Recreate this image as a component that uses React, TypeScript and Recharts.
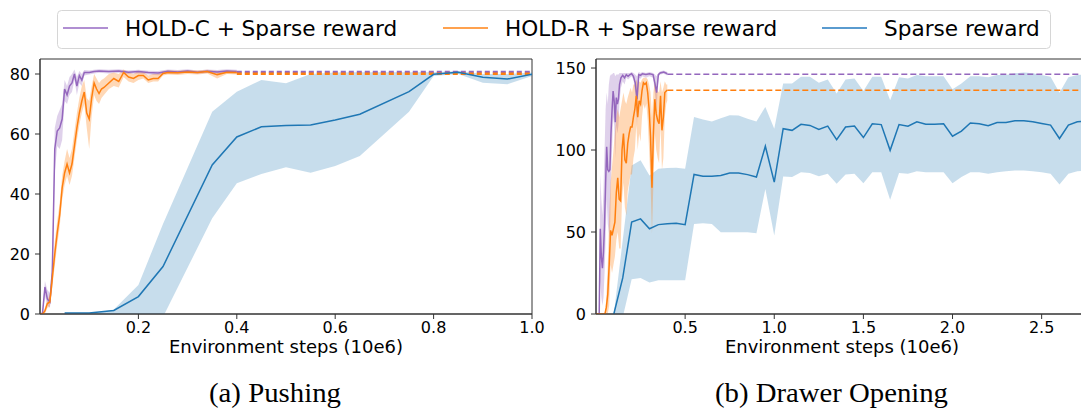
import React from "react";
import { ComposedChart, Line, Area, XAxis, YAxis, ReferenceArea, Label } from "recharts";

// colours (matplotlib tab10)
const PURPLE = "#9467bd";
const ORANGE = "#ff7f0e";
const BLUE = "#1f77b4";
const AXIS = "#333";
const FONT = "DejaVu Sans";

// ---------- (a) Pushing ----------
const pushHoldCX = [0, 0.005, 0.01, 0.015, 0.02, 0.025, 0.03, 0.035, 0.04, 0.045, 0.05, 0.055, 0.06, 0.065, 0.07, 0.075, 0.08, 0.085, 0.09,
  0.1, 0.11, 0.12, 0.14, 0.16, 0.18, 0.2, 0.22, 0.24, 0.26, 0.28, 0.3, 0.32, 0.34, 0.36, 0.38, 0.4];
const pushHoldC = [0, 0, 9, 5, 4, 14, 55, 61, 62, 65, 75, 73, 76, 77, 80, 76, 79.5, 78, 80.5,
  80.5, 80.8, 81, 80.8, 81, 80.6, 80.8, 80.5, 80.3, 80.9, 80.7, 81, 80.6, 80.9, 80.7, 81, 80.8];
const pushHoldCLo = [0, 0, 6, 3, 2, 9, 47, 56, 55, 58, 71, 70, 73, 74, 78, 73, 77, 76, 79.5,
  79.8, 80.2, 80.4, 80.2, 80.4, 80, 80.2, 79.8, 79.6, 80.3, 80.1, 80.4, 80, 80.3, 80.1, 80.4, 80.2];
const pushHoldCHi = [0, 1, 11, 8, 7, 18, 62, 66, 68, 70, 78, 76, 79, 80, 81.5, 79, 81, 80, 81.3,
  81.2, 81.4, 81.6, 81.4, 81.6, 81.2, 81.4, 81.1, 81, 81.5, 81.3, 81.6, 81.2, 81.5, 81.3, 81.6, 81.4];

const pushHoldRX = [0, 0.005, 0.01, 0.015, 0.02, 0.025, 0.03, 0.035, 0.04, 0.045, 0.05, 0.055, 0.06, 0.065, 0.07, 0.075, 0.08, 0.085, 0.09,
  0.095, 0.1, 0.105, 0.11, 0.115, 0.12, 0.125, 0.13, 0.14, 0.15, 0.16, 0.17, 0.18, 0.19, 0.2, 0.21, 0.22, 0.23, 0.24, 0.25, 0.26,
  0.28, 0.3, 0.32, 0.34, 0.36, 0.38, 0.4];
const pushHoldR = [0, 0, 1, 3.5, 4, 12, 20, 27, 33, 42, 47, 50, 47, 50, 56, 62, 67, 71, 74, 67, 65, 72, 77, 75, 73.5, 75, 75.5,
  77, 78.5, 77.5, 80.5, 79, 78.5, 79.5, 79.5, 78, 78.5, 78.5, 80.2, 80.5, 80.4, 80.7, 80.5, 80.8, 79.8, 80.6, 80.5];
const pushHoldRLo = [0, 0, 0, 2, 2.5, 9, 16, 23, 29, 38, 43, 46, 43, 46, 52, 58, 63, 67, 70, 62, 55, 66, 73, 71, 70, 72, 73,
  75, 76, 75.5, 79, 77.5, 77, 78, 78.5, 77, 77.5, 77.5, 79.5, 79.8, 79.7, 80, 79.8, 80.2, 78.5, 80, 79.8];
const pushHoldRHi = [0, 0, 2, 5, 6, 15, 24, 31, 37, 46, 51, 55, 52, 55, 61, 67, 72, 76, 78, 72, 71, 76, 80, 78.5, 77, 78, 78.5,
  80, 80.5, 80, 81.5, 80.5, 80, 81, 80.7, 79.5, 80, 80, 81, 81.2, 81.1, 81.3, 81.2, 81.4, 81, 81.2, 81.1];

const pushSparseX = [0.05, 0.1, 0.15, 0.2, 0.25, 0.35, 0.4, 0.45, 0.5, 0.55, 0.6, 0.65, 0.75, 0.8, 0.85, 0.9, 0.95, 1.0];
const pushSparse = [0.3, 0.3, 1.2, 5.8, 15.8, 49.7, 59, 62.4, 62.8, 63, 64.7, 66.6, 74.1, 79.9, 80.6, 78.9, 78.3, 79.9];
const pushSparseLo = [0, 0, 0, -4, -1, 31.9, 43.6, 46.7, 48.9, 47.1, 49.3, 52.7, 67.4, 79.3, 80, 77.1, 76.6, 79.3];
const pushSparseHi = [0, 0, 1.5, 9.7, 30, 67.4, 74.1, 78, 76.9, 80, 80.5, 80.6, 80.6, 80.6, 81, 80, 80, 80.5];

const pushFinalX = [0.4, 1.0];
const pushHoldCFinal = 80.7;
const pushHoldRFinal = 80.1;

// ---------- (b) Drawer Opening ----------
const drawHoldCX = [0, 0.018, 0.024, 0.03, 0.036, 0.042, 0.048, 0.054, 0.06, 0.066, 0.072, 0.078, 0.084, 0.09, 0.096, 0.102, 0.108,
  0.114, 0.12, 0.126, 0.132, 0.14, 0.15, 0.16, 0.17, 0.18, 0.19, 0.2, 0.21, 0.22, 0.23, 0.24, 0.25, 0.26, 0.28, 0.3, 0.32, 0.33,
  0.34, 0.35, 0.36, 0.38, 0.4];
const drawHoldC = [0, 0, 52, 35, 28, 38, 55, 80, 102, 88, 87, 88, 110, 124, 136, 130, 117, 132, 128, 131, 140, 144, 145.5, 144,
  146, 145, 146, 146.5, 145, 141, 131, 146, 145.5, 146.5, 146, 146.5, 146, 141, 135, 146, 147, 147.5, 146.5];
const drawHoldCLo = [0, 0, 20, 10, 5, 10, 25, 45, 70, 55, 50, 45, 80, 100, 120, 115, 95, 115, 110, 115, 130, 138, 142, 140,
  144, 143, 144, 145, 143, 135, 115, 144, 143.5, 145, 144, 145, 144, 135, 125, 144.5, 146, 146.5, 145.5];
const drawHoldCHi = [0, 0, 85, 70, 60, 75, 100, 125, 135, 128, 140, 145, 146, 146, 147, 147, 145, 146, 146, 146, 147, 147, 147,
  147, 147, 147, 147, 147.5, 147, 146, 145, 147.5, 147, 147.5, 147, 147.5, 147, 146, 145, 147, 148, 148.5, 147.5];

const drawHoldRX = [0, 0.05, 0.058, 0.066, 0.074, 0.082, 0.09, 0.098, 0.106, 0.114, 0.122, 0.13, 0.138, 0.146, 0.154, 0.162,
  0.17, 0.178, 0.186, 0.194, 0.202, 0.21, 0.218, 0.226, 0.234, 0.242, 0.25, 0.258, 0.266, 0.274, 0.282, 0.29, 0.298, 0.306,
  0.314, 0.322, 0.33, 0.338, 0.346, 0.354, 0.362, 0.37, 0.378, 0.386, 0.394, 0.4];
const drawHoldR = [0, 0, 4, 12, 30, 51, 48, 52, 56, 74, 83, 70, 69, 100, 110, 94, 92, 104, 110, 114, 114, 120, 125, 133, 120,
  130, 128, 136, 141, 140, 141, 135, 125, 108, 77, 110, 131, 122, 118, 116, 133, 112, 120, 135, 136, 136.5];
const drawHoldRLo = [0, 0, 0, 0, 5, 30, 25, 30, 35, 45, 50, 40, 40, 70, 80, 65, 60, 75, 80, 85, 85, 95, 100, 115, 100, 110,
  105, 120, 128, 125, 128, 118, 100, 80, 49, 80, 110, 100, 95, 92, 115, 88, 95, 120, 128, 130];
const drawHoldRHi = [0, 0, 10, 30, 60, 80, 90, 100, 110, 120, 125, 120, 125, 130, 135, 130, 128, 132, 135, 138, 135, 140, 140,
  143, 140, 142, 141, 143, 144, 144, 144, 143, 140, 135, 120, 135, 142, 138, 136, 135, 142, 135, 138, 142, 140, 140];

const drawSparseX = [0.1, 0.15, 0.2, 0.25, 0.3, 0.35, 0.4, 0.45, 0.5, 0.55, 0.6, 0.65, 0.7, 0.75, 0.8, 0.85, 0.9, 0.95, 1.0,
  1.05, 1.1, 1.15, 1.2, 1.25, 1.3, 1.35, 1.4, 1.45, 1.5, 1.55, 1.6, 1.65, 1.7, 1.75, 1.8, 1.85, 1.9, 1.95, 2.0, 2.05, 2.1,
  2.15, 2.2, 2.25, 2.3, 2.35, 2.4, 2.45, 2.5, 2.55, 2.6, 2.65, 2.7, 2.75];
const drawSparse = [0, 22, 56, 58, 52, 54.5, 55, 55.3, 54.5, 85.1, 84, 84, 84.5, 86, 86, 85, 83.5, 102.3, 80.4, 113, 112,
  115.7, 115, 112.5, 114.6, 106.3, 114, 114.6, 107.6, 116, 115.5, 99.8, 115.5, 114.5, 117.2, 115.7, 115.7, 116, 108.4, 111.5,
  116.5, 116, 114.8, 116.8, 116.8, 117.8, 117.8, 117.2, 116.2, 115.2, 107, 115.2, 117.2, 117.5];
const drawSparseLo = [-20, -2, 21.2, 22, 19.2, 20.6, 20.6, 20.6, 20.6, 54.9, 55.3, 54.9, 49.8, 49.8, 49.8, 49.8, 49.2, 76.3,
  47.8, 83.9, 83.5, 86.5, 86, 84, 85.5, 79.4, 85, 85.5, 79.8, 86.5, 86.5, 69.6, 86, 85.5, 87, 86.5, 86.5, 86.5, 79.8, 83.5,
  86.5, 86.5, 85.5, 86.5, 87, 87.5, 87.5, 87, 86.5, 85.5, 79, 85.5, 87, 87.5];
const drawSparseHi = [0, 45, 90.6, 93.7, 84.4, 88.6, 89, 89.2, 88.6, 120.2, 118.6, 117.4, 119.4, 121.2, 121, 119, 117.4, 126.3,
  113, 140.6, 140.6, 144.7, 144.7, 141, 143, 134.5, 143, 143.6, 136, 144.7, 144.7, 130.4, 144.3, 143.6, 145.8, 145, 145, 145,
  137, 140.6, 145, 145, 144.3, 145.8, 145.8, 146.8, 147.2, 146.8, 145.8, 144.7, 134.9, 144.3, 145.8, 146];

const drawFinalX = [0.4, 2.76];
const drawHoldCFinal = 146.2;
const drawHoldRFinal = 136.5;

const legendLabels = ["HOLD-C + Sparse reward", "HOLD-R + Sparse reward", "Sparse reward"];

type Row = { x: number; y: number; band: [number, number] };
const rows = (xs: number[], m: number[], lo: number[], hi: number[]): Row[] =>
  xs.map((x, i) => ({ x, y: m[i], band: [lo[i], hi[i]] }));
const flat = (xs: number[], v: number) => xs.map((x) => ({ x, y: v }));

type Series = { rows: Row[]; color: string; alpha: number };

function Panel(props: {
  left: number;
  yAxisWidth: number;
  width: number;
  xMax: number;
  yMax: number;
  xTicks: number[];
  yTicks: number[];
  series: Series[]; // drawn in order: bands then lines
  finals: { data: { x: number; y: number }[]; color: string; width: number; dash: string }[];
}) {
  const { left, yAxisWidth, width, xMax, yMax, xTicks, yTicks, series, finals } = props;
  return (
    <div style={{ position: "absolute", left, top: 0 }}>
      <ComposedChart
        width={width}
        height={360}
        margin={{ top: 59, right: width - yAxisWidth - 492, bottom: 0, left: 0 }}
        style={{ fontFamily: FONT }}
      >
        <ReferenceArea x1={0} x2={xMax} y1={0} y2={yMax} fill="none" stroke={AXIS} strokeWidth={1} />
        <XAxis
          dataKey="x"
          type="number"
          domain={[0, xMax]}
          ticks={xTicks}
          allowDataOverflow
          height={46}
          tickSize={5}
          tickMargin={3}
          tickFormatter={(v: number) => v.toFixed(1)}
          tick={{ fontSize: 16, fill: "#000", fontFamily: FONT }}
          axisLine={{ stroke: AXIS }}
          tickLine={{ stroke: AXIS }}
        >
          <Label value="Environment steps (10e6)" position="insideBottom" offset={7}
            style={{ fontSize: 18, fill: "#000", fontFamily: FONT }} />
        </XAxis>
        <YAxis
          type="number"
          domain={[0, yMax]}
          ticks={yTicks}
          allowDataOverflow
          width={yAxisWidth}
          tickSize={5}
          tickMargin={5}
          tick={{ fontSize: 16, fill: "#000", fontFamily: FONT }}
          axisLine={{ stroke: AXIS }}
          tickLine={{ stroke: AXIS }}
        />
        {series.map((s, i) => (
          <Area key={`band-${i}`} data={s.rows} dataKey="band" type="linear" stroke="none"
            fill={s.color} fillOpacity={s.alpha} isAnimationActive={false} activeDot={false} />
        ))}
        {finals.map((f, i) => (
          <Line key={`final-${i}`} data={f.data} dataKey="y" type="linear" stroke={f.color}
            strokeWidth={f.width} strokeDasharray={f.dash} dot={false} activeDot={false} isAnimationActive={false} />
        ))}
        {series.map((s, i) => (
          <Line key={`line-${i}`} data={s.rows} dataKey="y" type="linear" stroke={s.color}
            strokeWidth={1.5} dot={false} activeDot={false} isAnimationActive={false} />
        ))}
      </ComposedChart>
    </div>
  );
}

export default function App() {
  const pushSeries: Series[] = [
    { rows: rows(pushSparseX, pushSparse, pushSparseLo, pushSparseHi), color: BLUE, alpha: 0.25 },
    { rows: rows(pushHoldCX, pushHoldC, pushHoldCLo, pushHoldCHi), color: PURPLE, alpha: 0.3 },
    { rows: rows(pushHoldRX, pushHoldR, pushHoldRLo, pushHoldRHi), color: ORANGE, alpha: 0.3 },
  ];
  const drawSeries: Series[] = [
    { rows: rows(drawSparseX, drawSparse, drawSparseLo, drawSparseHi), color: BLUE, alpha: 0.25 },
    { rows: rows(drawHoldCX, drawHoldC, drawHoldCLo, drawHoldCHi), color: PURPLE, alpha: 0.3 },
    { rows: rows(drawHoldRX, drawHoldR, drawHoldRLo, drawHoldRHi), color: ORANGE, alpha: 0.3 },
  ];
  const legendColors = ["#b08fd2", "#ffa24f", "#5a9bcf"];
  const legendLineX = [63, 443, 822];

  return (
    <div style={{ position: "absolute", left: 0, top: 0, width: 1081, height: 410, overflow: "hidden", background: "#fff" }}>
      <Panel
        left={0}
        yAxisWidth={40}
        width={545}
        xMax={1.0}
        yMax={85}
        xTicks={[0.2, 0.4, 0.6, 0.8, 1.0]}
        yTicks={[0, 20, 40, 60, 80]}
        series={pushSeries}
        finals={[
          { data: flat(pushFinalX, pushHoldCFinal), color: PURPLE, width: 2.5, dash: "5 3" },
          { data: flat(pushFinalX, pushHoldRFinal), color: ORANGE, width: 2.5, dash: "5 3" },
        ]}
      />
      <Panel
        left={540}
        yAxisWidth={56}
        width={560}
        xMax={2.76}
        yMax={155.5}
        xTicks={[0.5, 1.0, 1.5, 2.0, 2.5]}
        yTicks={[0, 50, 100, 150]}
        series={drawSeries}
        finals={[
          { data: flat(drawFinalX, drawHoldCFinal), color: PURPLE, width: 1.5, dash: "6 3" },
          { data: flat(drawFinalX, drawHoldRFinal), color: ORANGE, width: 1.5, dash: "6 3" },
        ]}
      />
      <svg width={1081} height={410} style={{ position: "absolute", left: 0, top: 0, pointerEvents: "none" }}>
        <rect x={57.5} y={10.5} width={993} height={38} rx={4} fill="#fff" stroke="#d6d6d6" />
        {legendLabels.map((t, i) => (
          <g key={t}>
            <line x1={legendLineX[i]} x2={legendLineX[i] + 45} y1={28} y2={28} stroke={legendColors[i]} strokeWidth={2} />
            <text x={legendLineX[i] + 62} y={36} fontSize={21.6} fontFamily={FONT} fill="#000">{t}</text>
          </g>
        ))}
        <text x={209} y={402} fontSize={27} fontFamily="Liberation Serif" fill="#000"
          textLength={132} lengthAdjust="spacingAndGlyphs">(a) Pushing</text>
        <text x={715} y={402} fontSize={27} fontFamily="Liberation Serif" fill="#000"
          textLength={233} lengthAdjust="spacingAndGlyphs">(b) Drawer Opening</text>
      </svg>
    </div>
  );
}
